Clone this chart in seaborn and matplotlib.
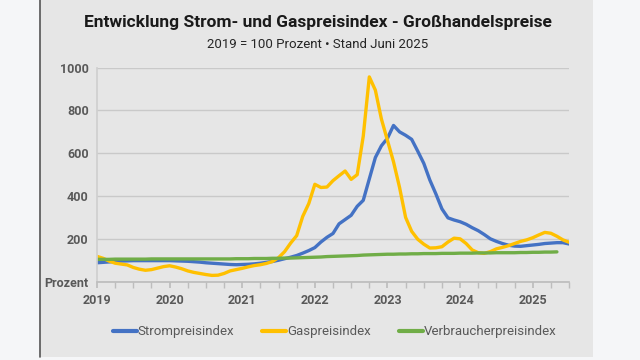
import numpy as np
import pandas as pd
import matplotlib
matplotlib.use('Agg')

import matplotlib.pyplot as plt
import seaborn as sns
from matplotlib.patches import Rectangle
from matplotlib.ticker import MultipleLocator

title = "Entwicklung Strom- und Gaspreisindex - Großhandelspreise"
subtitle = "2019 = 100 Prozent \u2022 Stand Juni 2025"

# monthly values, Jan 2019 ...
strom = [
    88, 90, 92, 94, 96, 97, 98, 98, 98, 98, 98, 98,
    98, 97, 96, 95, 93, 91, 88, 86, 84, 82, 80, 79,
    80, 81, 83, 86, 90, 94, 100, 107, 114, 122, 133, 145,
    159, 185, 207, 225, 270, 290, 310, 352, 380, 480, 580, 635,
    670, 730, 700, 684, 665, 610, 553, 475, 410, 340, 298, 288,
    280, 268, 252, 238, 220, 200, 188, 178, 170, 166, 165, 168,
    171, 174, 178, 180, 182, 182, 176,
]
gas = [
    118, 109, 96, 86, 82, 78, 66, 58, 53, 56, 63, 70,
    74, 68, 60, 50, 43, 38, 33, 29, 30, 38, 50, 56,
    62, 69, 75, 79, 85, 94, 112, 140, 180, 215, 305, 365,
    455, 440, 442, 472, 495, 517, 478, 500, 680, 957, 895, 760,
    660, 560, 440, 300, 235, 198, 175, 157, 158, 163, 185, 203,
    200, 178, 148, 135, 132, 140, 153, 160, 168, 178, 188, 195,
    205, 218, 230, 226, 212, 195, 184,
]
vpi = [
    104, 104, 104, 105, 105, 105, 105, 105, 105, 106, 106, 106,
    106, 106, 106, 106, 106, 106, 106, 106, 106, 106, 106, 107,
    107, 107, 108, 108, 108, 109, 109, 110, 110, 111, 112, 113,
    114, 115, 117, 118, 119, 120, 121, 122, 124, 125, 126, 127,
    128, 128, 129, 129, 130, 130, 131, 131, 131, 132, 132, 132,
    133, 133, 133, 134, 134, 134, 135, 135, 135, 135, 136, 136,
    137, 137, 138, 138, 139,
]
series_names = ["Strompreisindex", "Gaspreisindex", "Verbraucherpreisindex"]
colors = ["#4472C4", "#FFC000", "#70AD47"]
years = [2019, 2020, 2021, 2022, 2023, 2024, 2025]

rows = []
for name, vals in zip(series_names, [strom, gas, vpi]):
    for i, v in enumerate(vals):
        rows.append({"jahr": 2019 + i / 12, "wert": v, "serie": name})
df = pd.DataFrame(rows)

sns.set_theme(style="white")
plt.rcParams['font.family'] = ['Roboto', 'DejaVu Sans']

fig = plt.figure(figsize=(6.4, 3.6), dpi=100)
fig.patch.set_facecolor("#f5f6f8")
fig.patches.append(Rectangle((40 / 640, 0.008), 553 / 640, 0.992, transform=fig.transFigure,
                             facecolor="#e6e6e6", edgecolor="none", zorder=-2))
fig.lines.append(plt.Line2D([40 / 640, 40 / 640], [0.008, 1], transform=fig.transFigure,
                            color="#555555", lw=1.2, zorder=-1))

ax = fig.add_axes([97 / 640, 1 - 281.6 / 360, 472 / 640, (281.6 - 67.7) / 360])
ax.set_facecolor("none")

sns.lineplot(data=df, x="jahr", y="wert", hue="serie", hue_order=series_names,
             palette=dict(zip(series_names, colors)), linewidth=2.4, ax=ax, legend=False)

ax.set_xlim(2019, 2025.5)
ax.set_ylim(0, 1000)
ax.set_yticks([0, 200, 400, 600, 800, 1000])
ax.set_yticklabels(["Prozent", "200", "400", "600", "800", "1000"])
ax.set_xticks(years)
ax.set_xticklabels([str(y) for y in years])
ax.xaxis.set_minor_locator(MultipleLocator(0.25))
ax.grid(axis="y", color="#c9c9c9", lw=1)
ax.set_axisbelow(True)
ax.set_xlabel("")
ax.set_ylabel("")
for s in ["top", "right"]:
    ax.spines[s].set_visible(False)
ax.spines["left"].set_color("#cfcfcf")
ax.spines["bottom"].set_color("#bdbdbd")
ax.tick_params(axis="x", which="both", direction="out", length=4, color="#bdbdbd",
               bottom=True, labelsize=9, labelcolor="#595959", pad=5)
ax.tick_params(axis="y", length=0, labelsize=9, labelcolor="#595959", pad=6)
for lbl in ax.get_xticklabels() + ax.get_yticklabels():
    lbl.set_fontweight("bold")

handles = [plt.Line2D([], [], color=c, lw=3) for c in colors]
fig.legend(handles, series_names, loc="center", bbox_to_anchor=(0.523, 1 - 332 / 360), ncol=3,
           frameon=False, fontsize=9.5, handlelength=1.8, handletextpad=0.1, columnspacing=2.1,
           labelcolor="#595959")

fig.text(0.497, 1 - 22 / 360, title, ha="center", va="center", fontsize=12.5,
         fontweight="bold", color="#1a1a1a")
fig.text(0.497, 1 - 44 / 360, subtitle, ha="center", va="center", fontsize=9.5,
         color="#262626")

fig.savefig("out.png", dpi=100, facecolor=fig.get_facecolor())
